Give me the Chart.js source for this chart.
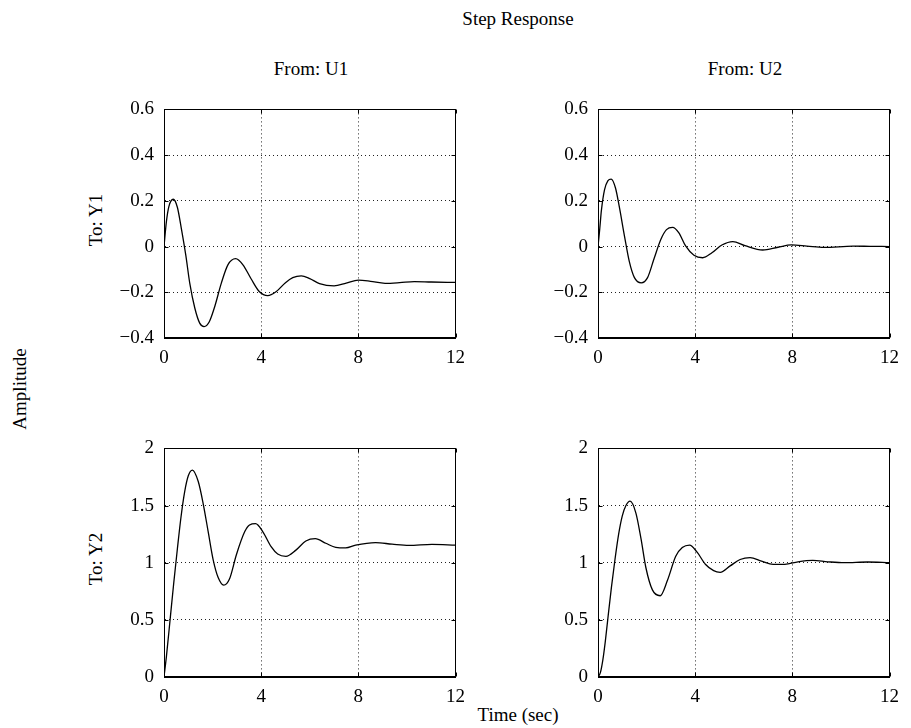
<!DOCTYPE html>
<html>
<head>
<meta charset="utf-8">
<script src="https://cdn.jsdelivr.net/npm/chart.js@4.4.0/dist/chart.umd.min.js"></script>
<style>
  body { margin: 0; background: #fff; width: 911px; height: 728px; position: relative; overflow: hidden;
         font-family: "Liberation Serif", "DejaVu Serif", serif; color: #000; }
  canvas { position: absolute; }
  .lbl { position: absolute; font-size: 19px; line-height: 1; white-space: nowrap; transform: translate(-50%, -50%); }
  .rot { transform: translate(-50%, -50%) rotate(-90deg); }
</style>
</head>
<body>
<div class="lbl" style="left:518px; top:18px;">Step Response</div>
<div class="lbl" style="left:311px; top:68px;">From: U1</div>
<div class="lbl" style="left:745px; top:68px;">From: U2</div>
<div class="lbl rot" style="left:95px; top:220px;">To: Y1</div>
<div class="lbl rot" style="left:95px; top:559px;">To: Y2</div>
<div class="lbl rot" style="left:19px; top:389px;">Amplitude</div>
<div class="lbl" style="left:518px; top:714px;">Time (sec)</div>

<canvas id="c11" width="360" height="286" style="left:114px; top:88px;"></canvas>
<canvas id="c12" width="360" height="286" style="left:548px; top:88px;"></canvas>
<canvas id="c21" width="360" height="286" style="left:114px; top:427px;"></canvas>
<canvas id="c22" width="360" height="286" style="left:548px; top:427px;"></canvas>

<script>
// tick values and labels
var xTicks = [0, 4, 8, 12];
var xTickLabels = ["0", "4", "8", "12"];
var topTicks = [-0.4, -0.2, 0, 0.2, 0.4, 0.6];
var topTickLabels = ["\u22120.4", "\u22120.2", "0", "0.2", "0.4", "0.6"];
var botTicks = [0, 0.5, 1, 1.5, 2];
var botTickLabels = ["0", "0.5", "1", "1.5", "2"];

// From U1 -> Y1
var t11 = [0, 0.1, 0.2, 0.38, 0.55, 0.72, 0.9, 1.06, 1.27, 1.47, 1.65, 1.86, 2.09, 2.36, 2.63, 2.95,
           3.25, 3.59, 3.93, 4.27, 4.61, 5.0, 5.3, 5.65, 6.0, 6.4, 7.0, 7.5, 8.0, 8.5, 9.1, 9.7, 10.3, 11.0, 12];
var y11 = [0, 0.11, 0.175, 0.207, 0.172, 0.075, -0.04, -0.16, -0.27, -0.335, -0.35, -0.33, -0.262, -0.16, -0.08, -0.053,
           -0.08, -0.142, -0.198, -0.215, -0.198, -0.158, -0.136, -0.128, -0.14, -0.162, -0.172, -0.16, -0.147, -0.152, -0.161, -0.158, -0.153, -0.155, -0.157];

// From U2 -> Y1
var t12 = [0, 0.07, 0.14, 0.27, 0.41, 0.54, 0.72, 0.88, 1.09, 1.29, 1.5, 1.78, 2.04, 2.31, 2.59, 2.82, 3.07,
           3.33, 3.6, 3.95, 4.31, 4.69, 5.1, 5.55, 6.05, 6.78, 7.41, 7.96, 8.6, 9.3, 10.5, 11.2, 12];
var y12 = [0, 0.075, 0.158, 0.249, 0.288, 0.295, 0.256, 0.172, 0.046, -0.066, -0.136, -0.159, -0.136, -0.052, 0.032, 0.074, 0.084,
           0.06, 0.004, -0.038, -0.049, -0.027, 0.007, 0.022, 0.004, -0.015, -0.003, 0.007, 0.002, -0.004, 0.002, 0.001, 0];

// From U1 -> Y2
var t21 = [0, 0.1, 0.25, 0.4, 0.55, 0.7, 0.85, 1.0, 1.17, 1.41, 1.61, 1.82, 2.02, 2.23, 2.46, 2.7, 2.98, 3.32, 3.52, 3.77,
           4.07, 4.41, 4.68, 5.02, 5.43, 5.84, 6.23, 6.66, 7.07, 7.48, 7.89, 8.71, 9.39, 10.08, 11.03, 12];
var y21 = [0, 0.18, 0.5, 0.82, 1.12, 1.4, 1.62, 1.76, 1.81, 1.71, 1.52, 1.27, 1.03, 0.87, 0.804, 0.86, 1.07, 1.27, 1.33, 1.342,
           1.27, 1.14, 1.076, 1.056, 1.11, 1.19, 1.21, 1.17, 1.134, 1.129, 1.154, 1.176, 1.162, 1.151, 1.16, 1.154];

// From U2 -> Y2
var t22 = [0, 0.1, 0.2, 0.3, 0.4, 0.55, 0.7, 0.85, 1.0, 1.15, 1.32, 1.56, 1.77, 1.97, 2.24, 2.56, 2.86, 3.2, 3.47, 3.77,
           4.08, 4.42, 4.76, 5.03, 5.44, 5.85, 6.26, 6.73, 7.21, 7.69, 8.23, 8.84, 9.46, 10.14, 11.1, 12];
var y22 = [0, 0.04, 0.15, 0.31, 0.5, 0.78, 1.03, 1.25, 1.41, 1.5, 1.538, 1.434, 1.21, 0.958, 0.762, 0.711, 0.846, 1.056, 1.132, 1.154,
           1.092, 0.986, 0.93, 0.916, 0.972, 1.028, 1.045, 1.014, 0.986, 0.986, 1.008, 1.02, 1.008, 1.0, 1.006, 1.0];

Chart.defaults.font.family = '"Liberation Serif", "DejaVu Serif", serif';
Chart.defaults.font.size = 19;
Chart.defaults.color = '#000';

// solid box round the axes plus short inward tick marks on all sides
var framePlugin = {
    id: 'frame',
    afterDraw: function(chart) {
        var ctx = chart.ctx, a = chart.chartArea;
        var xs = chart.scales.x, ys = chart.scales.y;
        var L = Math.round(a.left) + 0.5, R = Math.round(a.right) - 0.5;
        var T = Math.round(a.top) + 0.5, B = Math.round(a.bottom) - 0.5;
        ctx.save();
        ctx.strokeStyle = '#000';
        ctx.lineWidth = 1;
        ctx.setLineDash([]);
        ctx.strokeRect(L, T, R - L, B - T);
        ctx.beginPath();
        xs.ticks.forEach(function(tk) {
            var px = Math.round(xs.getPixelForValue(tk.value)) + 0.5;
            ctx.moveTo(px, B); ctx.lineTo(px, B - 4);
            ctx.moveTo(px, T); ctx.lineTo(px, T + 4);
        });
        ys.ticks.forEach(function(tk) {
            var py = Math.round(ys.getPixelForValue(tk.value)) + 0.5;
            ctx.moveTo(L, py); ctx.lineTo(L + 4, py);
            ctx.moveTo(R, py); ctx.lineTo(R - 4, py);
        });
        ctx.stroke();
        ctx.restore();
    }
};

function makePanel(id, ts, vs, yT, yL) {
    var pts = [];
    for (var i = 0; i < ts.length; i++) pts.push({x: ts[i], y: vs[i]});
    var ctx = document.getElementById(id).getContext('2d');
    return new Chart(ctx, {
        type: 'line',
        data: {
            datasets: [{
                data: pts,
                borderColor: '#000',
                borderWidth: 1.3,
                pointRadius: 0,
                fill: false,
                cubicInterpolationMode: 'monotone'
            }]
        },
        options: {
            responsive: false,
            animation: false,
            devicePixelRatio: 1,
            layout: { padding: { left: 0, right: 16, top: 14, bottom: 0 } },
            plugins: { legend: { display: false }, tooltip: { enabled: false }, title: { display: false } },
            scales: {
                x: {
                    type: 'linear', min: 0, max: 12,
                    afterBuildTicks: function(s) { s.ticks = xTicks.map(function(v) { return {value: v}; }); },
                    afterFit: function(s) { s.height = 36; },
                    ticks: {
                        padding: 9, maxRotation: 0,
                        callback: function(v, i) { return xTickLabels[i]; }
                    },
                    grid: { color: '#222', lineWidth: 1, drawTicks: false },
                    border: { display: true, color: '#000', dash: [1, 3] }
                },
                y: {
                    type: 'linear', min: yT[0], max: yT[yT.length - 1],
                    afterBuildTicks: function(s) { s.ticks = yT.map(function(v) { return {value: v}; }); },
                    afterFit: function(s) { s.width = 50; },
                    ticks: {
                        padding: 10,
                        callback: function(v, i) { return yL[i]; }
                    },
                    grid: { color: '#222', lineWidth: 1, drawTicks: false },
                    border: { display: true, color: '#000', dash: [1, 3] }
                }
            }
        },
        plugins: [framePlugin]
    });
}

makePanel('c11', t11, y11, topTicks, topTickLabels);
makePanel('c12', t12, y12, topTicks, topTickLabels);
makePanel('c21', t21, y21, botTicks, botTickLabels);
makePanel('c22', t22, y22, botTicks, botTickLabels);
</script>
</body>
</html>
